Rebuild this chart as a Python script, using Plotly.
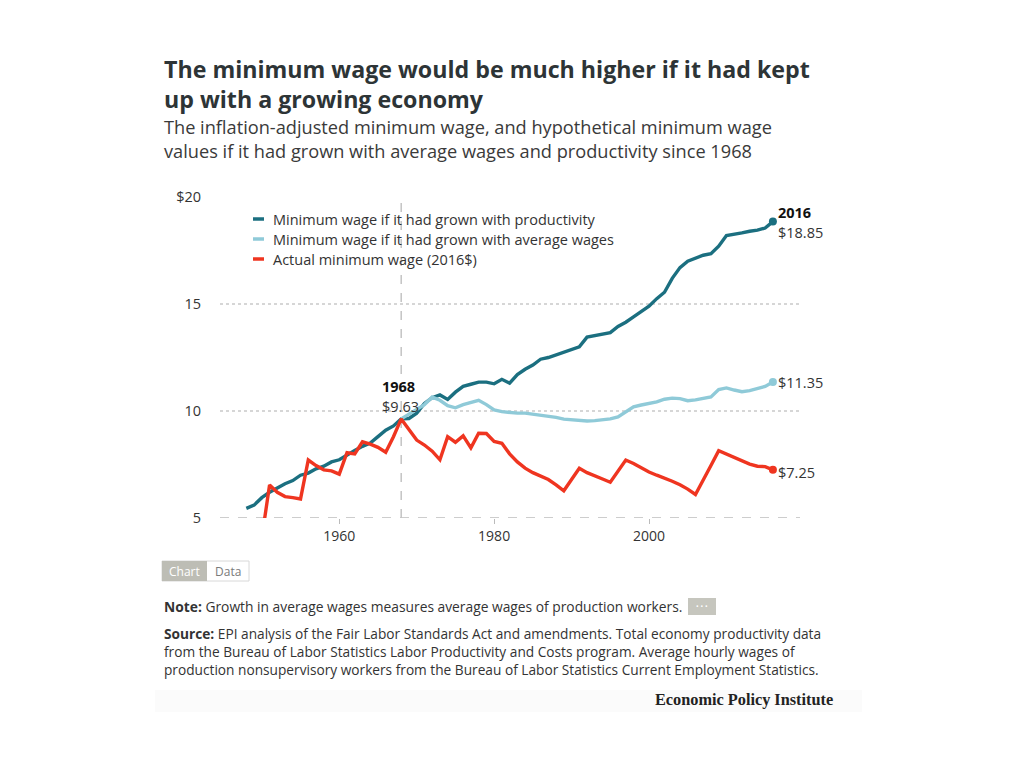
import plotly.graph_objects as go

# ---------------- data ----------------
prod_years = list(range(1948, 2017))
productivity = [5.45, 5.6, 5.95, 6.2, 6.4, 6.6, 6.75, 7.0, 7.1, 7.3,
                7.42, 7.62, 7.72, 7.95, 8.15, 8.35, 8.5, 8.8, 9.1, 9.3,
                9.63, 9.65, 9.9, 10.35, 10.62, 10.75, 10.54, 10.88, 11.15, 11.25,
                11.35, 11.35, 11.27, 11.48, 11.3, 11.7, 11.95, 12.15, 12.42, 12.5,
                12.62, 12.75, 12.9, 13.0, 13.45, 13.52, 13.62, 13.66, 13.95, 14.15,
                14.4, 14.65, 14.9, 15.25, 15.55, 16.2, 16.7, 17.0, 17.15, 17.28,
                17.35, 17.7, 18.2, 18.25, 18.32, 18.4, 18.45, 18.55, 18.85]

avg_years = list(range(1968, 2017))
avg_wages = [9.63, 9.85, 10.05, 10.3, 10.65, 10.5, 10.25, 10.15, 10.3, 10.4,
             10.5, 10.3, 10.05, 9.97, 9.92, 9.9, 9.9, 9.85, 9.82, 9.78,
             9.7, 9.62, 9.58, 9.55, 9.53, 9.55, 9.58, 9.63, 9.72, 9.95,
             10.2, 10.28, 10.35, 10.43, 10.55, 10.6, 10.58, 10.48, 10.52, 10.6,
             10.66, 11.0, 11.08, 10.98, 10.9, 10.95, 11.05, 11.15, 11.35]

actual_years = list(range(1950, 2017))
actual = [4.08, 6.54, 6.2, 6.0, 5.95, 5.89, 7.71, 7.45, 7.25, 7.2,
          7.05, 8.05, 7.99, 8.56, 8.45, 8.3, 8.07, 8.8, 9.63, 9.1,
          8.64, 8.41, 8.12, 7.72, 8.8, 8.54, 8.84, 8.28, 8.96, 8.95,
          8.58, 8.49, 8.0, 7.62, 7.33, 7.12, 6.98, 6.8, 6.55, 6.27,
          6.8, 7.32, 7.12, 6.95, 6.82, 6.67, 7.19, 7.71, 7.55, 7.35,
          7.15, 7.0, 6.87, 6.72, 6.55, 6.35, 6.1, 6.75, 7.45, 8.14,
          7.98, 7.8, 7.65, 7.52, 7.42, 7.4, 7.25]

series_names = ["Minimum wage if it had grown with productivity",
                "Minimum wage if it had grown with average wages",
                "Actual minimum wage (2016$)"]
y_tickvals = [5, 10, 15, 20]
y_ticktext = ["5", "10", "15", "$20"]
x_tickvals = [1960, 1980, 2000]
ref_year = 1968

# ---------------- style ----------------
C_PROD = "#1b6f80"
C_AVG = "#8fcad8"
C_ACT = "#ef3520"
TXT = "#333333"
FONT = "Open Sans"
LBL = 14.5

OFF = 8  # page body margin
W, H = 1024, 768
# plot area in page pixels
PL, PR, PT, PB = 220, 800, 197, 518
L, R, T, B = PL - OFF, PR - OFF, PT - OFF, PB - OFF


def px(xp):
    return (xp - PL) / (PR - PL)


def py(yp):
    return (PB - yp) / (PB - PT)


fig = go.Figure()
for xs, ys, c, n in [(prod_years, productivity, C_PROD, series_names[0]),
                     (avg_years, avg_wages, C_AVG, series_names[1]),
                     (actual_years, actual, C_ACT, series_names[2])]:
    fig.add_trace(go.Scatter(x=xs, y=ys, mode="lines", name=n,
                             line=dict(color=c, width=3.4), showlegend=False,
                             hoverinfo="x+y"))
    fig.add_trace(go.Scatter(x=[xs[-1]], y=[ys[-1]], mode="markers",
                             marker=dict(color=c, size=8), showlegend=False,
                             hoverinfo="skip", cliponaxis=False))

fig.update_layout(
    width=W, height=H,
    margin=dict(l=L, r=W - R, t=T, b=H - B),
    paper_bgcolor="white", plot_bgcolor="white",
    font=dict(family=FONT, color=TXT, size=13),
    xaxis=dict(range=[1944.6, 2019.5], tickvals=x_tickvals, showgrid=False,
               zeroline=False, showline=False, ticks="outside", ticklen=5,
               tickcolor="#bbbbbb", tickwidth=1, tickfont=dict(size=14, color=TXT)),
    yaxis=dict(range=[5, 20], tickvals=y_tickvals, ticktext=y_ticktext,
               showgrid=True, gridcolor="#d6d6d6", griddash="dot", gridwidth=1.5,
               zeroline=False, showline=False, ticks="outside", ticklen=15,
               tickcolor="rgba(0,0,0,0)", tickfont=dict(size=14.5, color=TXT)),
    hovermode="closest",
)

shapes = []
# bottom axis line (dashed)
shapes.append(dict(type="line", xref="paper", yref="y", x0=0, x1=1, y0=5, y1=5,
                   line=dict(color="#bdbdbd", width=1.5, dash="dash"), layer="below"))
# 1968 reference line
shapes.append(dict(type="line", xref="x", yref="paper", x0=ref_year, x1=ref_year, y0=0, y1=1,
                   line=dict(color="#c4c4c4", width=1.5, dash="dash"), layer="below"))

annotations = []
# title
annotations.append(dict(xref="paper", yref="paper", x=px(162), y=py(51), xanchor="left", yanchor="top",
                        text="<b>The minimum wage would be much higher if it had kept<br>up with a growing economy</b>",
                        showarrow=False, align="left", font=dict(size=23.2, color="#2d3436", family=FONT)))
annotations.append(dict(xref="paper", yref="paper", x=px(162), y=py(113), xanchor="left", yanchor="top",
                        text="The inflation-adjusted minimum wage, and hypothetical minimum wage<br>values if it had grown with average wages and productivity since 1968",
                        showarrow=False, align="left", font=dict(size=18.2, color="#3a3a3a", family=FONT)))

# legend (manual)
for i, (n, c) in enumerate(zip(series_names, [C_PROD, C_AVG, C_ACT])):
    yy = 219 + 20 * i
    shapes.append(dict(type="line", xref="paper", yref="paper", x0=px(253), x1=px(264),
                       y0=py(yy), y1=py(yy), line=dict(color=c, width=3.5)))
    annotations.append(dict(xref="paper", yref="paper", x=px(271), y=py(yy), xanchor="left",
                            yanchor="middle", text=n, showarrow=False,
                            font=dict(size=LBL, color=TXT, family=FONT)))

# end labels
annotations.append(dict(x=prod_years[-1], y=productivity[-1], xref="x", yref="y", xanchor="left",
                        yanchor="middle", xshift=3, yshift=9, text="<b>%d</b>" % prod_years[-1],
                        showarrow=False, font=dict(size=LBL, color="#111111", family=FONT)))
annotations.append(dict(x=prod_years[-1], y=productivity[-1], xref="x", yref="y", xanchor="left",
                        yanchor="middle", xshift=3, yshift=-11, text="$%.2f" % productivity[-1],
                        showarrow=False, font=dict(size=LBL, color=TXT, family=FONT)))
annotations.append(dict(x=avg_years[-1], y=avg_wages[-1], xref="x", yref="y", xanchor="left",
                        yanchor="middle", xshift=3, text="$%.2f" % avg_wages[-1],
                        showarrow=False, font=dict(size=LBL, color=TXT, family=FONT)))
annotations.append(dict(x=actual_years[-1], y=actual[-1], xref="x", yref="y", xanchor="left",
                        yanchor="middle", xshift=3, yshift=-3, text="$%.2f" % actual[-1],
                        showarrow=False, font=dict(size=LBL, color=TXT, family=FONT)))
ref_val = productivity[prod_years.index(ref_year)]
annotations.append(dict(x=ref_year, y=ref_val, xref="x", yref="y", xanchor="left",
                        yanchor="middle", xshift=-21, yshift=32, text="<b>%d</b>" % ref_year,
                        showarrow=False, font=dict(size=LBL, color="#111111", family=FONT)))
annotations.append(dict(x=ref_year, y=ref_val, xref="x", yref="y", xanchor="left",
                        yanchor="middle", xshift=-21, yshift=12, text="$%.2f" % ref_val,
                        showarrow=False, font=dict(size=LBL, color=TXT, family=FONT)))

# Chart / Data toggle
shapes.append(dict(type="rect", xref="paper", yref="paper", x0=px(162), x1=px(249), y0=py(561), y1=py(581),
                   line=dict(color="#d8d8d8", width=1), fillcolor="white", layer="below"))
shapes.append(dict(type="rect", xref="paper", yref="paper", x0=px(162), x1=px(207), y0=py(561), y1=py(581),
                   line=dict(width=0), fillcolor="#bdbdb5", layer="below"))
annotations.append(dict(xref="paper", yref="paper", x=px(184.5), y=py(571), xanchor="center", yanchor="middle",
                        text="Chart", showarrow=False, font=dict(size=12, color="white", family=FONT)))
annotations.append(dict(xref="paper", yref="paper", x=px(228), y=py(571), xanchor="center", yanchor="middle",
                        text="Data", showarrow=False, font=dict(size=12, color="#7a7a7a", family=FONT)))

# note
annotations.append(dict(xref="paper", yref="paper", x=px(162), y=py(606), xanchor="left", yanchor="middle",
                        text="<b>Note:</b> Growth in average wages measures average wages of production workers.",
                        showarrow=False, font=dict(size=13.8, color=TXT, family=FONT)))
shapes.append(dict(type="rect", xref="paper", yref="paper", x0=px(688), x1=px(716), y0=py(598), y1=py(615),
                   line=dict(width=0), fillcolor="#c6c6be", layer="below"))
annotations.append(dict(xref="paper", yref="paper", x=px(702), y=py(606.5), xanchor="center", yanchor="middle",
                        text="• • •", showarrow=False, font=dict(size=7, color="white", family=FONT)))
# source
annotations.append(dict(xref="paper", yref="paper", x=px(162), y=py(622), xanchor="left", yanchor="top",
                        align="left",
                        text="<b>Source:</b> EPI analysis of the Fair Labor Standards Act and amendments. Total economy productivity data<br>"
                             "from the Bureau of Labor Statistics Labor Productivity and Costs program. Average hourly wages of<br>"
                             "production nonsupervisory workers from the Bureau of Labor Statistics Current Employment Statistics.",
                        showarrow=False, font=dict(size=13.7, color=TXT, family=FONT)))
# footer band
shapes.append(dict(type="rect", xref="paper", yref="paper", x0=px(155), x1=px(862), y0=py(712), y1=py(690),
                   line=dict(width=0), fillcolor="rgba(0,0,0,0.015)", layer="below"))
annotations.append(dict(xref="paper", yref="paper", x=px(835), y=py(699), xanchor="right", yanchor="middle",
                        text="<b>Economic Policy Institute</b>", showarrow=False,
                        font=dict(size=16.3, color="#222222", family="Liberation Serif")))

fig.update_layout(shapes=shapes, annotations=annotations)
fig.write_html("out.html")
